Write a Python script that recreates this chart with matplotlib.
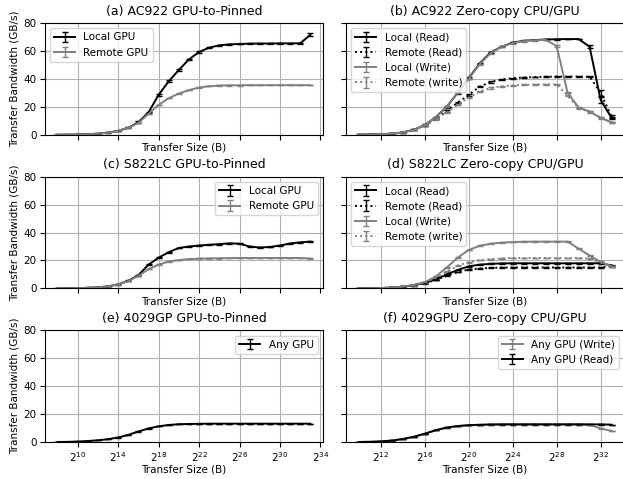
import numpy as np
import matplotlib
matplotlib.use("Agg")
import matplotlib.pyplot as plt
from matplotlib.ticker import FixedLocator, FuncFormatter, NullLocator

# transfer sizes (log2 of bytes)
exp_left = list(range(8, 34))
exp_right = list(range(10, 34))

# (a) AC922 GPU-to-Pinned
a_local = [0.05, 0.1, 0.2, 0.4, 0.8, 1.5, 2.8, 5.0, 9.0, 16.0, 28.6, 38.3, 46.4, 54.0,
           59.2, 62.4, 64.0, 64.7, 65.0, 65.2, 65.3, 65.3, 65.4, 65.4, 65.5, 71.5]
a_local_err = [0.05, 0.05, 0.1, 0.1, 0.1, 0.2, 0.2, 0.3, 0.5, 0.6, 0.6, 0.6, 0.5, 0.5,
               0.5, 0.3, 0.3, 0.2, 0.2, 0.2, 0.2, 0.2, 0.2, 0.2, 0.3, 1.0]
a_remote = [0.05, 0.1, 0.2, 0.4, 0.8, 1.5, 2.8, 5.0, 8.5, 15.0, 21.4, 26.2, 29.5, 32.0,
            33.8, 34.8, 35.2, 35.4, 35.4, 35.5, 35.5, 35.5, 35.5, 35.5, 35.5, 35.5]

# (b) AC922 Zero-copy CPU/GPU
b_local_read = [0.1, 0.2, 0.4, 0.8, 1.6, 3.5, 7.0, 12.5, 20.0, 30.0, 40.5, 51.0,
                59.0, 63.0, 66.0, 67.2, 67.8, 68.2, 68.4, 68.5, 68.5, 63.0, 25.0, 12.0]
b_local_read_err = [0.05, 0.05, 0.1, 0.1, 0.2, 0.3, 0.4, 0.5, 0.6, 0.6, 0.6, 0.6,
                    0.5, 0.5, 0.4, 0.3, 0.3, 0.3, 0.3, 0.3, 0.3, 1.0, 2.0, 1.0]
b_remote_read = [0.1, 0.2, 0.4, 0.8, 1.6, 3.5, 6.5, 11.5, 17.0, 23.0, 28.5, 34.5,
                 37.8, 39.5, 40.5, 41.0, 41.3, 41.5, 41.6, 41.6, 41.6, 41.5, 30.0, 13.0]
b_remote_read_err = [0.05, 0.05, 0.1, 0.1, 0.2, 0.3, 0.4, 0.5, 0.6, 0.6, 0.6, 0.5,
                     0.4, 0.4, 0.3, 0.3, 0.3, 0.3, 0.3, 0.3, 0.3, 0.5, 2.0, 1.0]
b_local_write = [0.1, 0.2, 0.4, 0.8, 1.6, 3.5, 7.0, 12.5, 20.0, 30.0, 40.0, 50.5,
                 58.5, 63.0, 65.7, 67.0, 67.6, 68.0, 63.5, 30.0, 19.5, 16.7, 12.0, 9.0]
b_remote_write = [0.1, 0.2, 0.4, 0.8, 1.6, 3.5, 6.5, 11.0, 16.0, 21.5, 26.5, 31.0,
                  33.5, 34.7, 35.3, 35.7, 35.9, 36.0, 36.0, 28.0, 19.0, 16.3, 12.5, 8.5]

# (c) S822LC GPU-to-Pinned
c_local = [0.05, 0.1, 0.2, 0.4, 0.8, 1.5, 2.9, 5.5, 9.5, 17.0, 22.0, 26.0, 29.0, 30.0,
           30.7, 31.2, 31.7, 32.3, 32.0, 30.0, 29.3, 29.7, 30.7, 32.2, 33.0, 33.5]
c_remote = [0.05, 0.1, 0.2, 0.4, 0.8, 1.5, 2.9, 5.3, 9.0, 13.8, 17.0, 19.3, 20.3, 21.0,
            21.3, 21.5, 21.6, 21.7, 21.8, 21.8, 21.8, 21.8, 21.8, 21.8, 21.8, 21.4]

# (d) S822LC Zero-copy CPU/GPU
d_local_read = [0.05, 0.1, 0.3, 0.6, 1.2, 2.3, 4.0, 6.5, 10.0, 13.2, 15.8, 17.0,
                17.6, 17.9, 18.0, 18.0, 18.0, 18.0, 18.0, 18.0, 18.0, 18.0, 18.0, 16.5]
d_remote_read = [0.05, 0.1, 0.3, 0.6, 1.2, 2.2, 3.8, 6.0, 9.0, 11.8, 13.5, 14.3,
                 14.7, 14.9, 15.0, 15.0, 15.0, 15.0, 15.0, 15.0, 15.0, 15.0, 15.0, 16.0]
d_local_write = [0.05, 0.1, 0.3, 0.6, 1.3, 2.5, 4.5, 8.5, 15.0, 22.0, 27.5, 30.5,
                 32.0, 32.8, 33.2, 33.4, 33.5, 33.5, 33.5, 33.5, 28.5, 23.6, 19.0, 15.8]
d_remote_write = [0.05, 0.1, 0.3, 0.6, 1.2, 2.4, 4.2, 7.5, 12.0, 16.2, 18.8, 20.3,
                  21.0, 21.5, 21.8, 21.8, 21.8, 21.8, 21.8, 21.8, 21.8, 21.3, 18.5, 15.5]

# (e) 4029GP GPU-to-Pinned
e_any = [0.1, 0.2, 0.4, 0.8, 1.3, 2.1, 3.3, 5.2, 7.6, 9.8, 11.3, 12.3, 12.8, 13.0,
         13.1, 13.2, 13.2, 13.2, 13.2, 13.2, 13.2, 13.2, 13.2, 13.2, 13.2, 13.2]

# (f) 4029GPU Zero-copy CPU/GPU
f_write = [0.1, 0.2, 0.5, 1.1, 2.2, 3.8, 6.0, 8.5, 10.4, 11.5, 12.1, 12.4,
           12.6, 12.7, 12.7, 12.7, 12.7, 12.7, 12.7, 12.7, 12.7, 12.3, 9.8, 8.0]
f_read = [0.1, 0.2, 0.5, 1.1, 2.2, 3.8, 6.0, 8.5, 10.4, 11.5, 12.1, 12.4,
          12.6, 12.7, 12.7, 12.7, 12.7, 12.7, 12.7, 12.7, 12.7, 12.7, 12.7, 12.5]

titles = ["(a) AC922 GPU-to-Pinned", "(b) AC922 Zero-copy CPU/GPU",
          "(c) S822LC GPU-to-Pinned", "(d) S822LC Zero-copy CPU/GPU",
          "(e) 4029GP GPU-to-Pinned", "(f) 4029GPU Zero-copy CPU/GPU"]
left_ticks = [10, 14, 18, 22, 26, 30, 34]
right_ticks = [12, 16, 20, 24, 28, 32]

xl = 2.0 ** np.array(exp_left)
xr = 2.0 ** np.array(exp_right)

fig, axs = plt.subplots(3, 2, figsize=(6.23, 4.79), dpi=100)
fig.subplots_adjust(left=0.072, right=1.002, bottom=0.077, top=0.952,
                    wspace=0.083, hspace=0.375)

def draw(ax, x, y, err, color, ls, label):
    ax.errorbar(x, y, yerr=err, color=color, ls=ls, lw=1.4, capsize=2.2,
                elinewidth=1, label=label)

K = "black"
G = "gray"
LFS = 7.5

ax = axs[0, 0]
draw(ax, xl, a_local, a_local_err, K, "-", "Local GPU")
draw(ax, xl, a_remote, 0.2, G, "-", "Remote GPU")
ax.legend(loc="upper left", fontsize=LFS)

ax = axs[0, 1]
draw(ax, xr, b_local_read, b_local_read_err, K, "-", "Local (Read)")
draw(ax, xr, b_remote_read, b_remote_read_err, K, ":", "Remote (Read)")
draw(ax, xr, b_local_write, 0.4, G, "-", "Local (Write)")
draw(ax, xr, b_remote_write, 0.4, G, ":", "Remote (write)")
ax.legend(loc="upper left", fontsize=LFS)

ax = axs[1, 0]
draw(ax, xl, c_local, 0.3, K, "-", "Local GPU")
draw(ax, xl, c_remote, 0.2, G, "-", "Remote GPU")
ax.legend(loc="upper right", fontsize=LFS)

ax = axs[1, 1]
draw(ax, xr, d_local_read, 0.3, K, "-", "Local (Read)")
draw(ax, xr, d_remote_read, 0.3, K, ":", "Remote (Read)")
draw(ax, xr, d_local_write, 0.3, G, "-", "Local (Write)")
draw(ax, xr, d_remote_write, 0.3, G, ":", "Remote (write)")
ax.legend(loc="upper left", fontsize=LFS)

ax = axs[2, 0]
draw(ax, xl, e_any, 0.1, K, "-", "Any GPU")
ax.legend(loc="upper right", fontsize=LFS)

ax = axs[2, 1]
draw(ax, xr, f_write, 0.1, G, "-", "Any GPU (Write)")
draw(ax, xr, f_read, 0.1, K, "-", "Any GPU (Read)")
ax.legend(loc="upper right", fontsize=LFS)

fmt = FuncFormatter(lambda v, p: r"$2^{%d}$" % round(np.log2(v)))
for i in range(3):
    for j in range(2):
        ax = axs[i, j]
        ax.set_xscale("log", base=2)
        ticks = left_ticks if j == 0 else right_ticks
        ax.xaxis.set_major_locator(FixedLocator([2.0 ** t for t in ticks]))
        ax.xaxis.set_minor_locator(NullLocator())
        ax.xaxis.set_major_formatter(fmt)
        ax.set_ylim(0, 80)
        ax.set_yticks([0, 20, 40, 60, 80])
        ax.grid(True)
        ax.set_title(titles[2 * i + j], fontsize=9)
        ax.set_xlabel("Transfer Size (B)", fontsize=7.5,
                      labelpad=2 if i < 2 else 0.5)
        ax.tick_params(labelsize=7.5, pad=2.5)
        if j == 0:
            ax.set_ylabel("Transfer Bandwidth (GB/s)", fontsize=7.5, labelpad=3)
        else:
            ax.tick_params(labelleft=False)
        if i < 2:
            ax.tick_params(labelbottom=False)

fig.savefig("out.png", dpi=100)
